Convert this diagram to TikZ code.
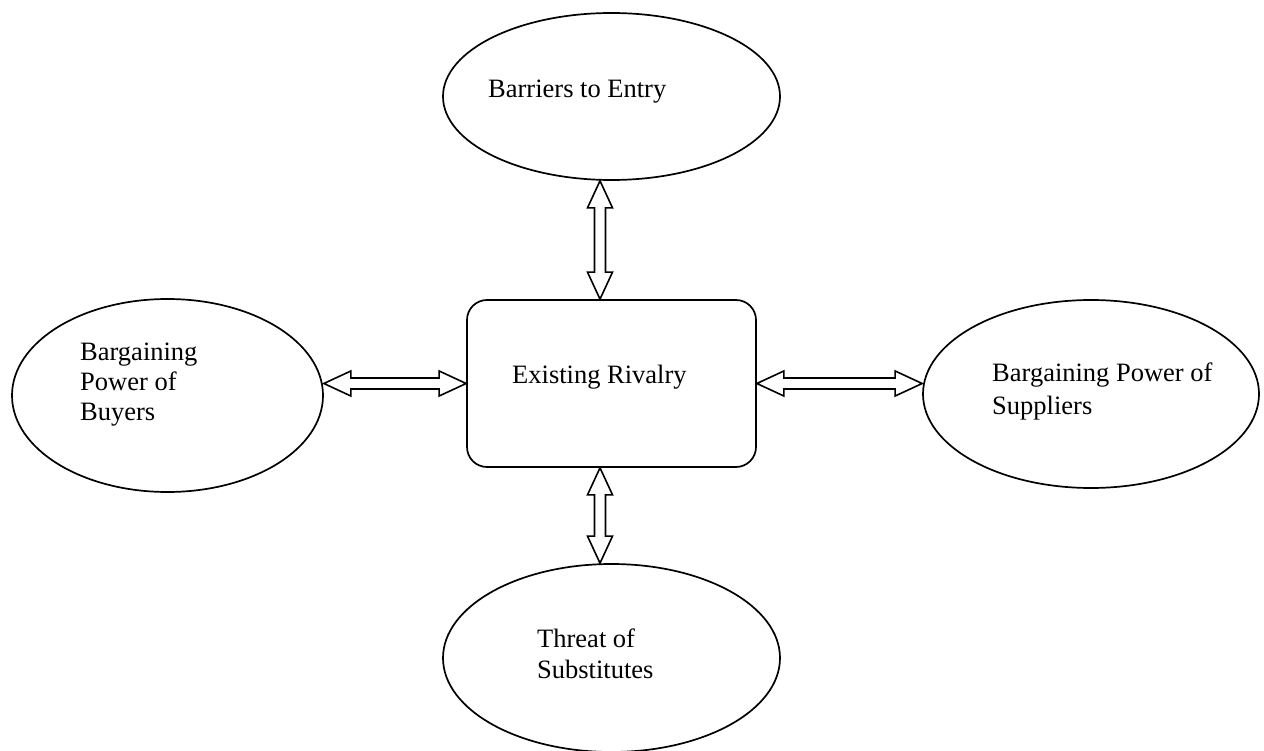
\documentclass[tikz,border=0pt]{standalone}
\usepackage{fontspec}
\setmainfont{Liberation Serif}
\usetikzlibrary{shapes.geometric,calc}

% dimensions of the hollow two-headed arrows
\def\arrowHeadLen{27pt}
\def\arrowHeadHalf{12.5pt}
\def\arrowShaftHalf{5.5pt}

\tikzset{
  force/.style={draw, ellipse, line width=1.7pt, inner sep=0pt},
  core/.style={draw, rectangle, rounded corners=20pt, line width=1.7pt, inner sep=0pt},
  caption/.style={anchor=base west, inner sep=0pt, align=left,
                  font=\fontsize{26.5}{#1}\selectfont},
  caption/.default=30,
  blockarrow/.style={draw, line width=1.6pt, line join=miter, fill=white},
}

% hollow arrow with a head at each end, from #1 to #2
\newcommand\twowayarrow[2]{%
  \path[blockarrow] (#1)
    -- ($(#1)!\arrowHeadLen!(#2)!\arrowHeadHalf!90:(#2)$)
    -- ($(#1)!\arrowHeadLen!(#2)!\arrowShaftHalf!90:(#2)$)
    -- ($(#2)!\arrowHeadLen!(#1)!\arrowShaftHalf!-90:(#1)$)
    -- ($(#2)!\arrowHeadLen!(#1)!\arrowHeadHalf!-90:(#1)$)
    -- (#2)
    -- ($(#2)!\arrowHeadLen!(#1)!\arrowHeadHalf!90:(#1)$)
    -- ($(#2)!\arrowHeadLen!(#1)!\arrowShaftHalf!90:(#1)$)
    -- ($(#1)!\arrowHeadLen!(#2)!\arrowShaftHalf!-90:(#2)$)
    -- ($(#1)!\arrowHeadLen!(#2)!\arrowHeadHalf!-90:(#2)$)
    -- cycle;%
}

\begin{document}
\begin{tikzpicture}[x=1pt, y=-1pt]
  \fill[white] (0,0) rectangle (1264,751);
  \useasboundingbox (0,0) rectangle (1264,751);

  % the five forces
  \node[force, minimum width=337pt, minimum height=167pt] (entry) at (611.5,96.5) {};
  \node[force, minimum width=311pt, minimum height=193pt] (buyers) at (167.5,395.5) {};
  \node[force, minimum width=336pt, minimum height=188pt] (suppliers) at (1091,394) {};
  \node[force, minimum width=337pt, minimum height=188pt] (subst) at (611.5,658) {};
  \node[core, minimum width=289pt, minimum height=167pt] (rivalry) at (611.5,383.5) {};

  % labels (anchored on the baseline of their last line)
  \node[caption] (entrytxt) at (488,97.7) {Barriers to Entry};
  \node[caption] (rivtxt) at (512,383) {Existing Rivalry};
  \node[caption=30] (buytxt) at (80,420.5) {Bargaining\\Power of\\Buyers};
  \node[caption=33] (suptxt) at (992,414) {Bargaining Power of\\Suppliers};
  \node[caption=31] (subtxt) at (537,678) {Threat of\\Substitutes};

  % arrow end points
  \coordinate (eA) at ($(entry.south)+(-11.5,0)$);
  \coordinate (eB) at ($(rivalry.north)+(-11.5,0)$);
  \coordinate (sA) at ($(rivalry.south)+(-11.5,0)$);
  \coordinate (sB) at ($(subst.north)+(-11.5,0)$);
  \coordinate (bA) at (rivalry.west -| buyers.east);
  \coordinate (pA) at (rivalry.east -| suppliers.west);

  \twowayarrow{eA}{eB}
  \twowayarrow{sA}{sB}
  \twowayarrow{bA}{rivalry.west}
  \twowayarrow{rivalry.east}{pA}
\end{tikzpicture}
\end{document}
